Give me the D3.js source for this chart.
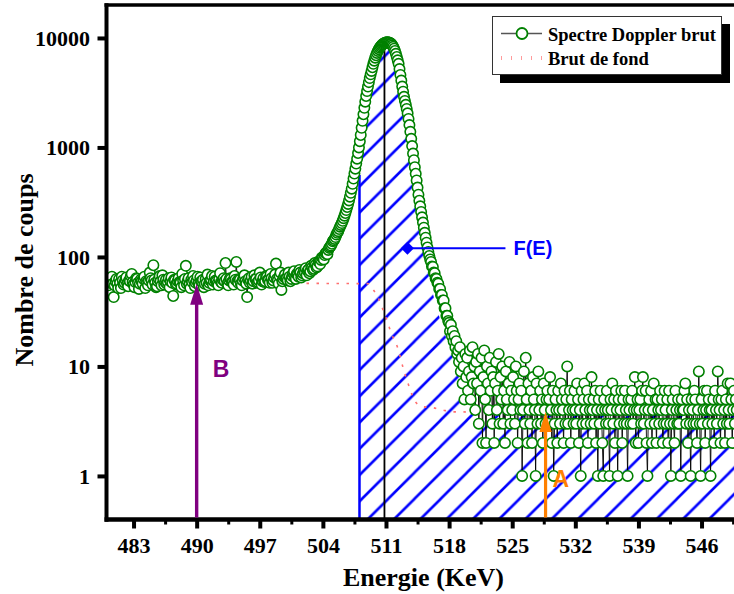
<!DOCTYPE html>
<html><head><meta charset="utf-8">
<script src="https://cdn.jsdelivr.net/npm/d3@7"></script>
<style>body{margin:0;background:#fff} svg{display:block}</style>
</head><body>
<svg id="c" width="734" height="594"></svg>
<script>
// ---- data ----
const E0 = 480, dE = 0.1; // channel calibration (keV per channel)
const countsLow = [
62,58,55,61,58,64,66,57,43,55,
60,63,57,52,63,58,52,66,61,56,
58,62,65,57,54,61,60,67,70,59,
56,53,59,64,63,58,51,57,62,60,
57,63,66,52,60,58,55,61,72,64,
61,56,84,62,58,53,54,60,63,67,
60,55,68,62,56,59,62,57,59,64,
53,60,65,58,44,62,61,56,57,60,
64,59,58,53,70,61,55,63,83,57,
60,64,56,52,62,59,67,61,54,58,
61,66,57,55,65,60,59,62,53,57,
63,58,69,55,58,61,62,67,56,60,
66,61,60,57,55,63,71,59,58,62,
64,60,88,63,57,55,61,64,63,59,
59,56,67,62,90,60,58,63,62,57,
55,61,65,68,60,57,43,62,64,58,
61,66,57,60,68,63,63,58,59,61,
72,65,56,60,64,59,60,67,66,62,
62,58,70,64,58,61,65,69,87,63,
61,57,67,72,50,60,63,66,69,64,
64,61,72,66,60,63,67,71,74,65,
63,70,69,66,76,72,65,68,71,75];
const countsPeak = [
72,79,68,75,77,71,74,83,80,76,
78,88,85,80,82,91,90,86,94,99,
98,95,104,108,110,106,116,121,124,127,
132,139,142,146,152,160,166,172,180,189,
196,204,214,226,238,252,268,286,305,328,
355,385,420,465,520,578,640,712,790,890,
1000,1140,1300,1510,1750,2010,2300,2620,2950,3270,
3600,3950,4300,4650,5000,5400,5800,6200,6600,6950,
7300,7620,7900,8150,8350,8540,8700,8840,8950,9040,
9100,9140,9150,9110,9050,8940,8800,8570,8300,7970,
7600,7170,6700,6250,5800,5200,4600,4080,3600,3230,
2900,2660,2450,2250,2050,1820,1600,1390,1200,1030,
880,765,660,575,500,430,370,326,290,258,
230,206,185,166,150,135,122,111,102,95,
90,82,81,72,71,64,63,58,57,51,
51,45,45,40,40,34,34,29,29,26,
25,21,24,19,21,17,19,15,17,13,
14,11,15,9,12,7,10,5,13,8];
const countsTail = [
12,6,9,14,5,8,15,7,10,4,
11,7,13,3,9,6,12,2,8,14,
5,2,10,7,4,12,6,9,3,8,
2,7,11,4,6,13,3,8,5,10,
3,6,2,9,5,4,7,11,3,6,
4,8,5,3,10,6,2,5,7,4,
6,1,4,9,3,12,5,2,7,4,
3,6,2,8,5,4,1,7,3,9,
4,6,3,5,2,7,4,3,5,6,
3,5,8,4,2,6,1,3,5,4,
2,6,4,3,7,5,4,2,6,3,
5,10,3,4,6,2,5,4,3,6,
4,3,7,5,2,4,1,6,3,5,
7,4,3,6,2,5,4,3,8,4,
5,3,6,2,4,1,5,3,6,4,
2,1,5,4,3,6,4,3,1,5,
4,7,3,5,2,6,4,1,5,3,
4,6,2,5,3,6,4,3,1,5,
4,3,5,6,3,4,8,2,4,5,
2,4,5,3,6,8,3,4,6,2,
1,4,5,3,6,2,4,7,3,5,
2,5,4,3,6,4,5,2,3,6,
4,3,5,2,6,3,1,4,5,3,
2,6,4,3,5,3,4,1,5,4,
4,6,7,3,5,2,4,3,1,5,
4,3,6,5,3,2,4,9,3,1,
5,3,4,6,2,4,6,3,5,4,
1,4,3,5,2,6,4,3,9,5,
4,2,5,6,3,4,2,5,3,7,
4,3,7,5,2,4,6,3,5,4];
const counts = countsLow.concat(countsPeak, countsTail);

// F(E) hatched region upper boundary
const fitE = [508.06,508.4,508.8,509.3,509.8,510.3,510.8,511.3,511.8,512.3,512.8,513.3,513.8,514.3,514.8,515.3,515.8,516.3,517.0,517.8,518.4,519.0,519.6,520.1,521.0,550];
const fitN = [560,1100,2200,3500,5000,6600,8100,8000,6500,4500,2900,1800,950,480,230,115,65,43,27,17,12,8.5,5.5,4.0,3.6,3.6];
// Brut de fond (background)
const bgE = [480,509.0,509.6,510.1,510.6,511.0,511.6,512.3,512.9,513.7,514.1,515.0,516.2,517.3,518.4,550];
const bgN = [58,57,50,43,34,28,20,14.8,9.7,6.1,5.0,4.3,4.2,4.0,3.85,3.75];

const xTicks = [483,490,497,504,511,518,525,532,539,546];
const xMinor = [486.5,493.5,500.5,507.5,514.5,521.5,528.5,535.5,542.5,549.5];
const yTicks = [1,10,100,1000,10000];
const peakLine = {E:510.83, N:8100};
const arrowB = {E:490, N:57};
const arrowA = {E:528.7, N:3.84};
const fMark = {E:513.38, N:120, Eend:524.25};

// ---- layout ----
const W = 734, H = 594;
const xL = 106.5, xR = 737.6, yT = 5, yB = 519.5;
const x = d3.scaleLinear().domain([480,550]).range([xL,xR]);
const y = d3.scaleLog().domain([0.4,20000]).range([yB,yT]);
const serif = "'Liberation Serif','Times New Roman',serif";
const sans = "'Liberation Sans',Arial,sans-serif";

const svg = d3.select("#c");
const defs = svg.append("defs");
defs.append("clipPath").attr("id","plot").append("rect")
  .attr("x",xL).attr("y",yT).attr("width",W-xL).attr("height",yB-yT);
const P = 26.25;
defs.append("pattern").attr("id","hatch").attr("patternUnits","userSpaceOnUse")
  .attr("width",P).attr("height",P).attr("patternTransform","translate(20.8,0)")
  .append("path")
  .attr("d",`M${-P/4},${P/4}L${P/4},${-P/4}M0,${P}L${P},0M${P*0.75},${P*1.25}L${P*1.25},${P*0.75}`)
  .attr("stroke","#0000ff").attr("stroke-width",2.6);

const g = svg.append("g").attr("clip-path","url(#plot)");

// hatched area
const fit = fitE.map((e,i)=>({E:e,n:fitN[i]}));
g.append("path").datum(fit)
  .attr("d", d3.area().x(d=>x(d.E)).y0(yB).y1(d=>y(d.n)).curve(d3.curveMonotoneX))
  .attr("fill","url(#hatch)");
g.append("line").attr("x1",x(fitE[0])).attr("x2",x(fitE[0]))
  .attr("y1",yB).attr("y2",y(fitN[0])).attr("stroke","#0000ff").attr("stroke-width",2.5);
// centroid line
g.append("line").attr("x1",x(peakLine.E)).attr("x2",x(peakLine.E))
  .attr("y1",yB).attr("y2",y(peakLine.N)).attr("stroke","#000").attr("stroke-width",1.8);

// background
const bg = bgE.map((e,i)=>({E:e,n:bgN[i]}));
g.append("path").datum(bg)
  .attr("d", d3.line().x(d=>x(d.E)).y(d=>y(d.n)).curve(d3.curveMonotoneX))
  .attr("fill","none").attr("stroke","#ff6f6f").attr("stroke-width",1.6)
  .attr("stroke-dasharray","2.5,7.5");

// spectrum
const spec = counts.map((n,i)=>({E:E0+i*dE, n}));
g.append("path").datum(spec)
  .attr("d", d3.line().x(d=>x(d.E)).y(d=>y(d.n)))
  .attr("fill","none").attr("stroke","#000").attr("stroke-width",0.9);
g.selectAll("circle.pt").data(spec).join("circle").attr("class","pt")
  .attr("cx",d=>x(d.E)).attr("cy",d=>y(d.n)).attr("r",5.2)
  .attr("fill","#fff").attr("stroke","#008000").attr("stroke-width",1.6);

// ---- axes ----
const gx = svg.append("g").attr("transform",`translate(0,${yB})`)
  .call(d3.axisBottom(x).tickValues(xTicks).tickSize(9).tickFormat(d3.format("d")));
gx.select(".domain").remove();
gx.attr("font-family",serif).attr("font-size",22).attr("font-weight","bold");
gx.selectAll(".tick line").attr("stroke","#000").attr("stroke-width",4);
gx.selectAll(".tick text").attr("y",33.5).attr("dy",0).attr("fill","#000");
const gxm = svg.append("g").attr("transform",`translate(0,${yB})`)
  .call(d3.axisBottom(x).tickValues(xMinor).tickSize(5).tickFormat(""));
gxm.select(".domain").remove();
gxm.selectAll(".tick line").attr("stroke","#000").attr("stroke-width",3);

const gy = svg.append("g").attr("transform",`translate(${xL},0)`)
  .call(d3.axisLeft(y).tickValues(yTicks).tickSize(9).tickFormat(d3.format("d")));
gy.select(".domain").remove();
gy.attr("font-family",serif).attr("font-size",22).attr("font-weight","bold");
gy.selectAll(".tick line").attr("stroke","#000").attr("stroke-width",4);
gy.selectAll(".tick text").attr("x",-16.5).attr("dy","0.34em").attr("fill","#000");

// spines
svg.append("line").attr("x1",xL).attr("x2",xL).attr("y1",yT-1.7).attr("y2",yB+2.2).attr("stroke","#000").attr("stroke-width",4);
svg.append("line").attr("x1",xL-2).attr("x2",W).attr("y1",yB).attr("y2",yB).attr("stroke","#000").attr("stroke-width",4.5);
svg.append("line").attr("x1",xL-2).attr("x2",W).attr("y1",yT).attr("y2",yT).attr("stroke","#000").attr("stroke-width",3.5);

// titles
svg.append("text").attr("x",423.5).attr("y",586).attr("text-anchor","middle")
  .attr("font-family",serif).attr("font-size",26).attr("font-weight","bold").text("Energie (KeV)");
svg.append("text").attr("transform","translate(33,270) rotate(-90)").attr("text-anchor","middle")
  .attr("font-family",serif).attr("font-size",26).attr("font-weight","bold").text("Nombre de coups");

// ---- annotations ----
function arrow(a, color, w, headH, headW){
  const xa = x(a.E), yt = y(a.N);
  svg.append("line").attr("x1",xa).attr("x2",xa).attr("y1",yB-2).attr("y2",yt+headH-2)
    .attr("stroke",color).attr("stroke-width",w);
  svg.append("path").attr("d",`M${xa},${yt}L${xa+headW},${yt+headH}L${xa-headW},${yt+headH}Z`)
    .attr("fill",color);
}
arrow(arrowB,"#800080",3.4,21,6.5);
arrow(arrowA,"#ff8000",3.2,20,6.2);
svg.append("text").attr("x",x(arrowB.E)+16).attr("y",377).attr("font-family",sans)
  .attr("font-size",23).attr("font-weight","bold").attr("fill","#800080").text("B");
svg.append("text").attr("x",x(arrowA.E)+7).attr("y",487).attr("font-family",sans)
  .attr("font-size",23).attr("font-weight","bold").attr("fill","#ff8000").text("A");

const fx = x(fMark.E), fy = y(fMark.N);
svg.append("line").attr("x1",fx).attr("x2",x(fMark.Eend)).attr("y1",fy).attr("y2",fy)
  .attr("stroke","#0000ff").attr("stroke-width",2);
svg.append("path").attr("d",`M${fx},${fy-6.5}L${fx+6.5},${fy}L${fx},${fy+6.5}L${fx-6.5},${fy}Z`).attr("fill","#0000ff");
svg.append("text").attr("x",x(fMark.Eend)+8).attr("y",fy+6.5).attr("font-family",sans)
  .attr("font-size",20).attr("font-weight","bold").attr("fill","#0000ff").text("F(E)");

// ---- legend ----
const lg = svg.append("g");
lg.append("rect").attr("x",500).attr("y",24).attr("width",230).attr("height",59).attr("fill","#000");
lg.append("rect").attr("x",492.5).attr("y",16.5).attr("width",229).attr("height",58)
  .attr("fill","#fff").attr("stroke","#333").attr("stroke-width",1);
lg.append("line").attr("x1",501).attr("x2",542).attr("y1",33.5).attr("y2",33.5)
  .attr("stroke","#555").attr("stroke-width",1.5);
lg.append("circle").attr("cx",522).attr("cy",33.5).attr("r",5.5)
  .attr("fill","#fff").attr("stroke","#008000").attr("stroke-width",1.8);
lg.append("text").attr("x",548).attr("y",41).attr("font-family",serif).attr("font-size",18.5)
  .attr("font-weight","bold").text("Spectre Doppler brut");
lg.append("line").attr("x1",501).attr("x2",543).attr("y1",58).attr("y2",58)
  .attr("stroke","#ff9a9a").attr("stroke-width",4).attr("stroke-dasharray","1,9");
lg.append("text").attr("x",548).attr("y",65).attr("font-family",serif).attr("font-size",18.5)
  .attr("font-weight","bold").text("Brut de fond");
</script>
</body></html>
